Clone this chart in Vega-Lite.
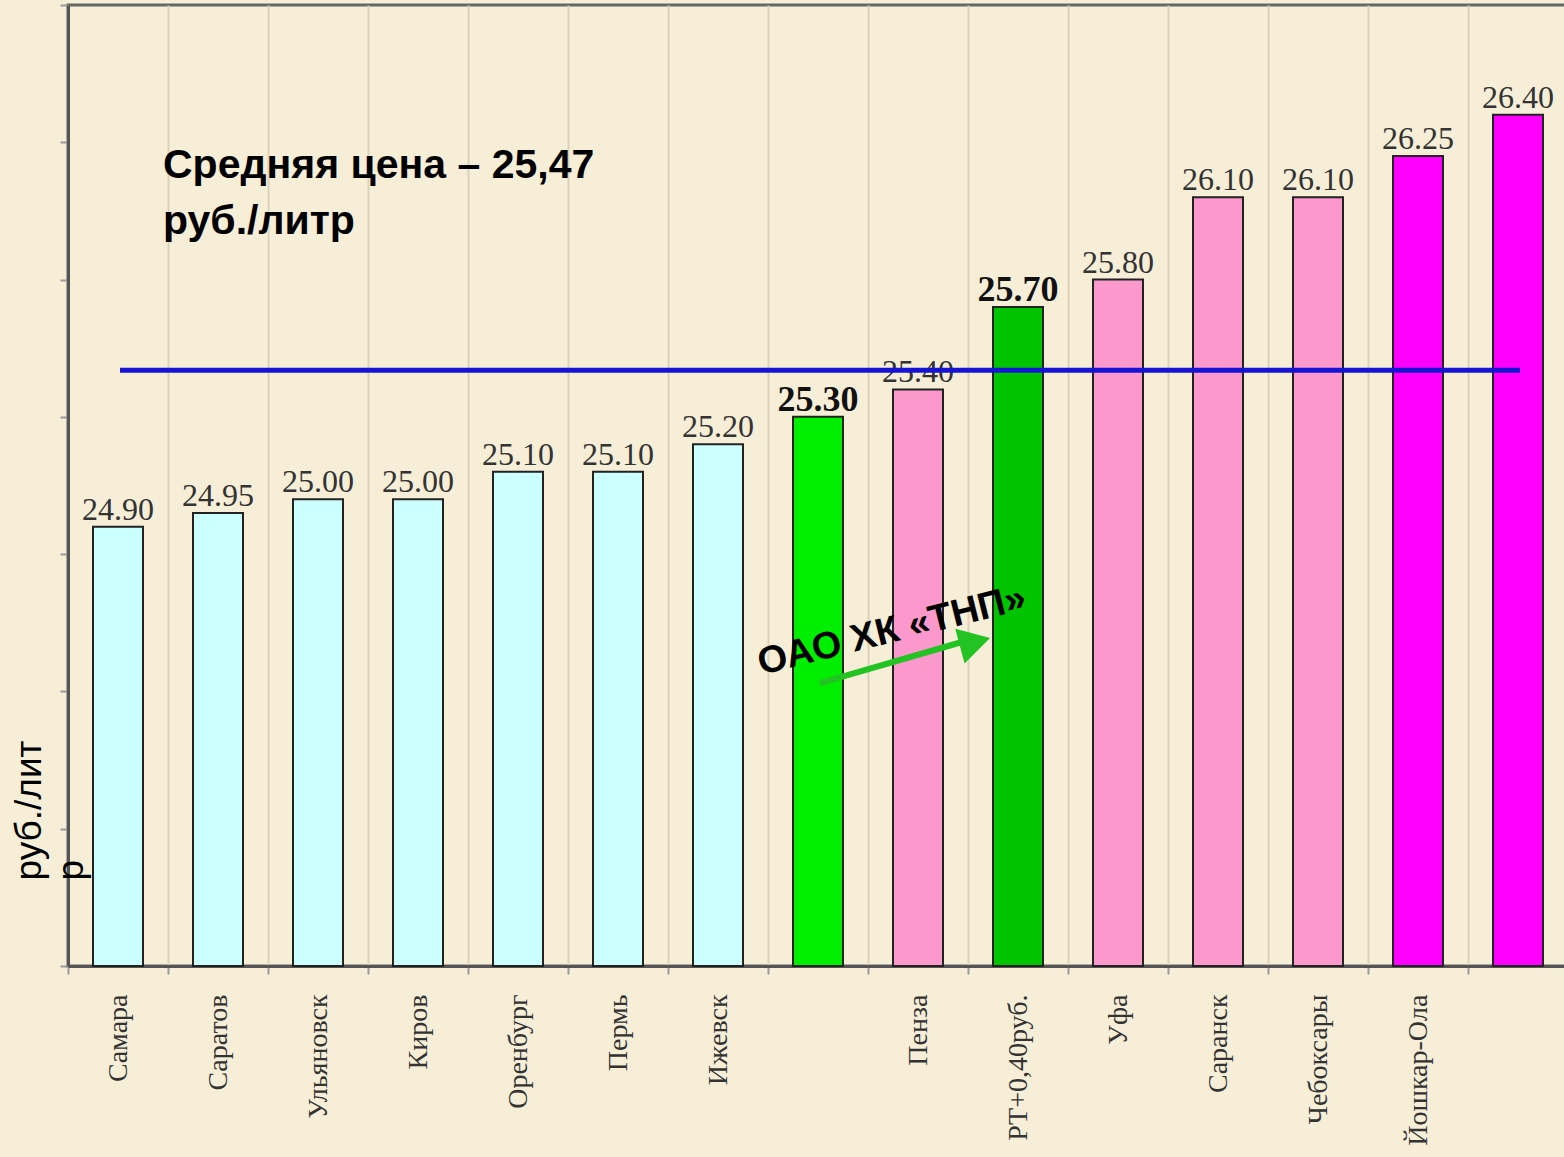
{
  "$schema": "https://vega.github.io/schema/vega-lite/v6.json",
  "width": 1500,
  "height": 961,
  "autosize": "none",
  "padding": {"left": 68, "top": 5, "right": 0, "bottom": 191},
  "background": "#f7eed8",
  "config": {"view": {"stroke": "#666666", "strokeWidth": 3, "fill": "#f7eed8"}},
  "datasets": {
    "prices": [
      {"city": "Самара", "price": 24.90, "grp": "low"},
      {"city": "Саратов", "price": 24.95, "grp": "low"},
      {"city": "Ульяновск", "price": 25.00, "grp": "low"},
      {"city": "Киров", "price": 25.00, "grp": "low"},
      {"city": "Оренбург", "price": 25.10, "grp": "low"},
      {"city": "Пермь", "price": 25.10, "grp": "low"},
      {"city": "Ижевск", "price": 25.20, "grp": "low"},
      {"city": "_1", "price": 25.30, "grp": "tnp"},
      {"city": "Пенза", "price": 25.40, "grp": "mid"},
      {"city": "РТ+0,40руб.", "price": 25.70, "grp": "rt"},
      {"city": "Уфа", "price": 25.80, "grp": "mid"},
      {"city": "Саранск", "price": 26.10, "grp": "mid"},
      {"city": "Чебоксары", "price": 26.10, "grp": "mid"},
      {"city": "Йошкар-Ола", "price": 26.25, "grp": "high"},
      {"city": "_2", "price": 26.40, "grp": "high"}
    ],
    "avg": [{"pos": 0.52, "price": 25.47}, {"pos": 14.52, "price": 25.47}],
    "title": [{"pos": 0.95, "price": 26.17, "label": "Средняя цена – 25,47\nруб./литр"}],
    "note": [{"pos": 8.24, "price": 24.52, "label": "ОАО ХК «ТНП»"}],
    "arrow": [{"pos": 7.52, "price": 24.33}, {"pos": 8.94, "price": 24.48}],
    "head": [{"pos": 9.07, "price": 24.48}]
  },
  "resolve": {"scale": {"x": "independent"}},
  "layer": [
    {
      "data": {"name": "prices"},
      "encoding": {
        "x": {
          "field": "city", "type": "nominal", "sort": null,
          "scale": {"paddingInner": 0, "paddingOuter": 0},
          "axis": {
            "title": null, "labelAngle": 270, "labelFont": "Liberation Serif", "labelFontSize": 28,
            "labelColor": "#333333", "labelPadding": 20,
            "labelExpr": "indexof(datum.label, '_') === 0 ? '' : datum.label",
            "tickBand": "extent", "tickSize": 8, "tickColor": "#999999", "tickWidth": 2,
            "domainColor": "#555555", "domainWidth": 3,
            "grid": true, "gridColor": "#dcd2bc", "gridWidth": 2
          }
        },
        "y": {
          "field": "price", "type": "quantitative",
          "scale": {"domain": [23.3, 26.8], "nice": false, "zero": false},
          "axis": {
            "values": [23.3, 23.8, 24.3, 24.8, 25.3, 25.8, 26.3, 26.8],
            "labels": false, "grid": false, "tickSize": 8, "tickColor": "#999999", "tickWidth": 2,
            "domainColor": "#555555", "domainWidth": 3,
            "title": ["руб./лит", "р"], "titleAngle": 270, "titleAlign": "left", "titleBaseline": "alphabetic",
            "titleX": -28, "titleY": 875, "titleFont": "Liberation Sans", "titleFontSize": 37,
            "titleFontWeight": "normal", "titleColor": "#000000", "titleLineHeight": 42
          }
        }
      },
      "layer": [
        {
          "mark": {"type": "bar", "stroke": "#222222", "strokeWidth": 2, "width": {"band": 0.5}},
          "encoding": {
            "y2": {"datum": 23.3},
            "color": {
              "field": "grp", "type": "nominal", "legend": null,
              "scale": {"domain": ["low", "tnp", "mid", "rt", "high"], "range": ["#ccffff", "#00ee00", "#fb99cc", "#00c400", "#ff00ff"]}
            }
          }
        },
        {
          "transform": [{"filter": "datum.grp !== 'tnp' && datum.grp !== 'rt'"}],
          "mark": {"type": "text", "font": "Liberation Serif", "fontSize": 32, "color": "#333333", "baseline": "alphabetic", "dy": -7},
          "encoding": {"text": {"field": "price", "type": "quantitative", "format": ".2f"}}
        },
        {
          "transform": [{"filter": "datum.grp === 'tnp' || datum.grp === 'rt'"}],
          "mark": {"type": "text", "font": "Liberation Serif", "fontSize": 36, "fontWeight": "bold", "color": "#111111", "baseline": "alphabetic", "dy": -6},
          "encoding": {"text": {"field": "price", "type": "quantitative", "format": ".2f"}}
        }
      ]
    },
    {
      "encoding": {
        "x": {"field": "pos", "type": "quantitative", "scale": {"domain": [0, 15], "nice": false, "zero": false}, "axis": null},
        "y": {"field": "price", "type": "quantitative", "scale": {"domain": [23.3, 26.8], "nice": false, "zero": false}}
      },
      "layer": [
        {
          "data": {"name": "avg"},
          "mark": {"type": "line", "color": "#1414d2", "strokeWidth": 5}
        },
        {
          "data": {"name": "title"},
          "mark": {"type": "text", "font": "Liberation Sans", "fontSize": 41, "fontWeight": "bold", "color": "#000000", "align": "left", "baseline": "alphabetic", "lineBreak": "\n", "lineHeight": 56},
          "encoding": {"text": {"field": "label"}}
        },
        {
          "data": {"name": "arrow"},
          "mark": {"type": "line", "color": "#22c322", "strokeWidth": 6, "strokeCap": "butt"}
        },
        {
          "data": {"name": "head"},
          "mark": {"type": "point", "shape": "triangle-right", "filled": true, "size": 1300, "angle": 345, "color": "#22c322", "opacity": 1}
        },
        {
          "data": {"name": "note"},
          "mark": {"type": "text", "font": "Liberation Sans", "fontSize": 38, "fontWeight": "bold", "color": "#000000", "align": "center", "baseline": "middle", "angle": 346},
          "encoding": {"text": {"field": "label"}}
        }
      ]
    }
  ]
}
